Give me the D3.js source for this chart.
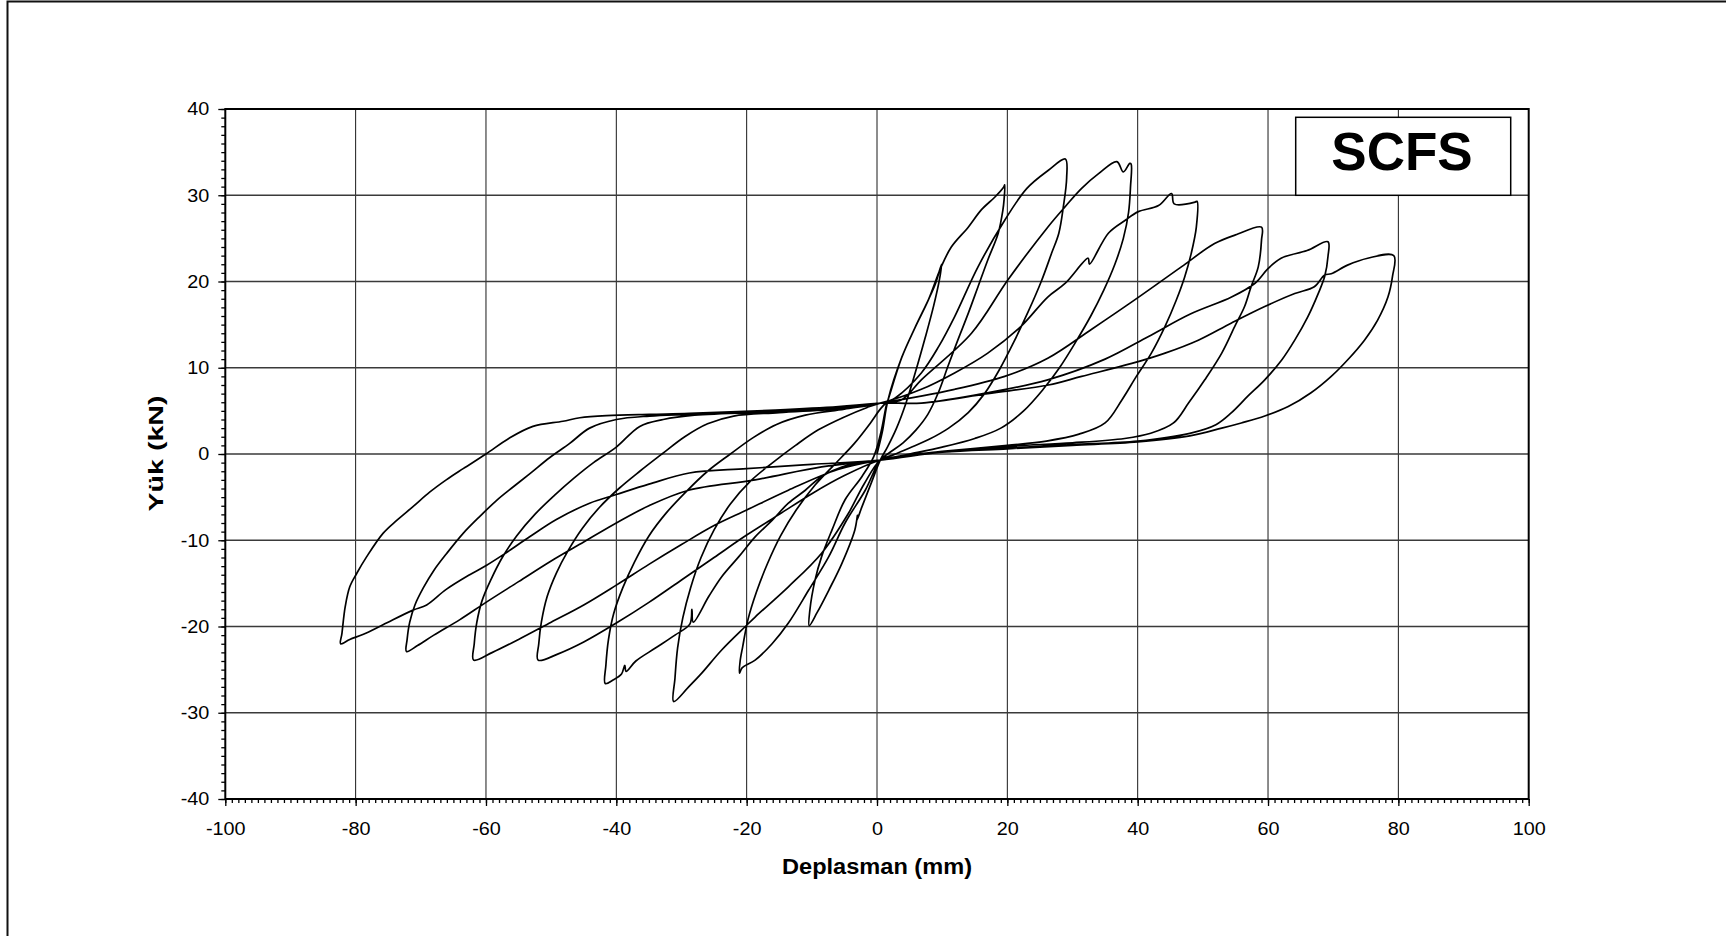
<!DOCTYPE html>
<html><head><meta charset="utf-8">
<script src="https://cdn.jsdelivr.net/npm/d3@7"></script>
<style>
body{margin:0;background:#fff;}
svg{display:block;}
text{font-family:Arial,"Liberation Sans",sans-serif;fill:#000;}
</style>
</head><body>
<svg id="c" width="1726" height="936"></svg>
<script>
// ---------- tick labels ----------
const xTicks = [-100,-80,-60,-40,-20,0,20,40,60,80,100];
const yTicks = [-40,-30,-20,-10,0,10,20,30,40];
const xTitle = "Deplasman (mm)";
const yTitle = "Yük (kN)";
const specimen = "SCFS";

// ---------- hysteresis data: [displacement mm, load kN] ----------
const cycle10 = [[0,0],[0.8,2.5],[1.7,6.3],[3.8,11.2],[5.8,14.6],[7.9,17.9],[9.0,19.8],[9.9,22.0],
  [9.6,20.3],[8.7,17.2],[7.4,13.5],[5.9,9.5],[4.4,5.8],[3.0,3.0],[1.6,0.8],[0.5,-0.7],
  [-0.8,-3.2],[-2.3,-6.1],[-3.1,-7.7],[-3.0,-7.1],[-3.4,-8.8],[-5.4,-12.7],[-7.4,-15.8],[-9.2,-18.4],[-10.4,-19.9],
  [-10.3,-18.1],[-9.5,-14.6],[-8.5,-11.9],[-6.9,-8.8],[-4.9,-5.3],[-2.3,-2.6],[-0.5,-0.3],[0.6,2.5],[1.5,5.9]];
const cycle20 = [[1.7,6.3],[3.8,11.2],[5.8,14.6],[7.9,17.9],[9.8,21.6],[11.4,24.0],[14.0,26.3],[16.0,28.3],[18.1,29.8],[19.4,30.9],[19.6,31.2],
  [19.5,29.5],[19.3,28.2],[18.6,25.6],[17.0,22.5],[15.5,19.4],[14.0,16.3],[12.4,13.2],[10.9,10.2],[9.4,7.1],[7.8,4.6],[6,2.8],[4,1.3],[2,0.2],[0.5,-0.7],
  [-1.8,-4.2],[-4.9,-8.0],[-7.4,-11.9],[-10.5,-15.8],[-13.6,-19.6],[-16.1,-22.0],[-18.7,-23.9],[-20.7,-24.8],[-21.1,-25.4],
  [-21.0,-24.0],[-20.6,-22.3],[-19.8,-19.2],[-18.5,-16.0],[-16.8,-12.7],[-14.8,-9.5],[-12.4,-6.5],[-9.5,-3.6],[-6.5,-1.2],[-3.5,1.2],[-1,3.6],[0.5,5.2],[1.5,6.0]];
const cycle30 = [[2.8,6.5],[6.8,9.4],[9.5,12.5],[11.9,15.9],[15.5,21.7],[19.6,27.1],[23.0,30.8],[26.3,32.9],[28.9,34.2],
  [29.1,32.0],[28.6,28.7],[27.9,25.6],[26.8,23.3],[25.2,20],[23.2,16.5],[21,13],[18.8,9.8],[16.5,7],[14,4.8],[11,3],[8,1.7],[5,0.7],[2.5,-0.1],[0.5,-0.7],
  [-2,-3.5],[-4.4,-6.9],[-8.5,-11.5],[-13.6,-15.4],[-18.7,-18.9],[-20.2,-20],[-23.8,-22.7],[-27,-25.5],[-28.9,-27.0],[-31.2,-28.7],
  [-31.0,-26],[-30.6,-22.5],[-29.8,-19],[-28.6,-15.5],[-27,-12],[-25,-8.8],[-22.5,-5.8],[-19.5,-3.2],[-16,-1],[-12.5,1],[-9,2.8],[-5,4.3],[-1.5,5.4],[0.5,5.9]];
const cycle40 = [[3.8,6.3],[6.8,8.6],[14.5,14.0],[20.1,20.2],[26.2,26.3],[28.9,28.7],[31.4,30.8],[34,32.5],[36.8,33.9],[37.8,32.7],[38.8,33.7],[39.0,33.6],
  [38.9,31],[38.6,28],[37.8,25],[36.5,22],[34.8,19],[32.8,16],[30.5,13],[28,10],[25.5,7.5],[22.5,5],[19,3],[15,1.8],[10,0.8],[5,0],[0.5,-0.7],
  [-1.3,-0.9],[-5.4,-1.5],[-8.5,-2.6],[-11,-4.2],[-13.6,-5.7],[-16.1,-7.7],[-18.7,-9.6],[-21.2,-11.9],[-23.8,-14.2],[-25.8,-16.5],[-28.2,-19.5],[-28.4,-18.0],[-28.7,-19.7],[-31,-21],[-34,-22.5],[-37,-24],[-38.5,-25.2],[-38.7,-24.5],[-39.2,-25.5],[-40.5,-26.2],[-41.7,-26.6],
  [-41.6,-24.5],[-41.2,-21.5],[-40.4,-18.5],[-39,-15.5],[-37.2,-12.5],[-35,-9.5],[-32.3,-6.8],[-29.2,-4.3],[-26,-2],[-22.5,0],[-19,1.9],[-15.5,3.4],[-11,4.5],[-5,5.2],[0.5,5.9]];
const cycle50 = [[6.8,7.5],[11.9,9.4],[17.0,11.7],[22.1,14.8],[26.2,18.2],[28.9,19.8],[32.4,22.7],[32.6,22.0],[35.5,25.6],[38.1,27.1],[40.1,28.1],[43.2,28.8],[45.2,30.2],[45.6,29.0],[48.8,29.2],[49.1,29.3],
  [49.0,26.3],[48.2,23.2],[47.2,20.5],[45.9,17.8],[44.2,14.8],[42.1,11.7],[39.8,9.0],[37.6,6.3],[35,3.6],[31,2.3],[26,1.5],[20,1.0],[10,0.3],[3,-0.3],[0.5,-0.7],
  [-5,-2.5],[-10,-4.6],[-15,-7],[-20,-9.4],[-25,-12],[-30,-14.6],[-35,-17.2],[-40,-19.6],[-45,-21.8],[-49,-23.2],[-52,-23.9],
  [-51.9,-22],[-51.5,-19.5],[-50.6,-16.5],[-49.2,-13.8],[-47.4,-11.2],[-45.2,-8.6],[-42.6,-6.2],[-39.6,-4],[-36.4,-2],[-33,0],[-29.5,2],[-26,3.5],[-22,4.4],[-15,4.8],[-5,5.3],[0.5,5.9]];
const cycle60 = [[11.9,7.5],[19.6,9.0],[26.2,11.1],[33,14.5],[39.6,17.9],[46.7,21.7],[51.8,24.4],[55,25.4],[59,26.3],
  [59,24.8],[58.5,21.7],[57.4,19.4],[56.4,17.1],[54.9,14.8],[52.9,11.7],[50.3,8.6],[47.8,5.9],[45.5,3.6],[42,2.4],[38,1.8],[30,1.3],[20,0.9],[10,0.3],[0.5,-0.7],
  [-6,-1.8],[-13.6,-4.2],[-20,-6.5],[-25,-8.3],[-30,-10.5],[-35,-12.8],[-40,-15.2],[-45,-17.5],[-50,-19.5],[-55,-21.5],[-59,-23],[-61.9,-23.9],
  [-61.8,-22],[-61.4,-19.5],[-60.6,-17],[-59.2,-14.5],[-57.5,-12],[-55.3,-9.5],[-52.5,-7],[-49.5,-4.8],[-46.5,-2.8],[-43.5,-1],[-40,0.8],[-36.4,3.2],[-32.8,4.0],[-28,4.5],[-15,4.9],[-5,5.3],[0.5,5.9]];
const cycle70 = [[6.8,5.9],[17.0,7.1],[26.2,8.6],[35,11],[41.6,13.6],[48,16.2],[54.4,18.2],[58,19.8],[60,21.5],[62,22.7],[66,23.6],[69.2,24.6],
  [69.2,22.9],[68.7,20.6],[67.7,18.6],[66.1,15.9],[64.1,13.2],[62.1,10.9],[59.5,8.6],[56.9,6.7],[54.4,4.8],[52,3.4],[48,2.4],[40,1.5],[30,1.1],[20,0.7],[10,0.2],[0.5,-0.7],
  [-8.5,-1.5],[-18.7,-3.0],[-28.9,-4.2],[-35,-6],[-40,-8.0],[-45,-10.2],[-50,-12.4],[-55,-14.8],[-60,-17.2],[-64,-19.2],[-68,-21],[-70.5,-22.2],[-72.2,-22.9],
  [-72.1,-21.5],[-71.7,-19.5],[-70.9,-17.5],[-69.6,-15.5],[-68.0,-13.5],[-66,-11.5],[-63.5,-9.2],[-60.9,-7.2],[-58.4,-5.4],[-55.8,-3.8],[-53.3,-2.3],[-50.2,-0.4],[-47.2,1.2],[-44.1,3.0],[-40,4.0],[-34.9,4.4],[-28.8,4.6],[-15,5.0],[-5,5.4],[0.5,5.9]];
const cycle80 = [[6.8,5.9],[17,7],[26.3,8.0],[31.4,9.0],[39.1,10.5],[44.2,11.7],[49.3,13.2],[54.4,15.2],[59.5,17.1],[64.1,18.6],[67.1,19.4],[68.7,20.75],[69.7,20.9],[72.2,21.9],[75.3,22.7],[79.3,23.0],
  [79.1,20.6],[78.4,18.2],[76.8,15.5],[74.8,13.2],[72.2,10.9],[69.7,9.0],[66.6,7.1],[63.1,5.5],[59.5,4.4],[55.9,3.6],[52.9,3.0],[48,2.1],[40,1.4],[30,1.0],[20,0.6],[10,0.2],[0.5,-0.7],
  [-10,-1.2],[-20,-1.7],[-28.8,-2.2],[-35,-3.5],[-40,-4.7],[-44.1,-5.7],[-49.2,-7.6],[-53.3,-9.6],[-57.4,-11.7],[-59.9,-12.9],[-62.5,-14.0],[-66.1,-15.7],[-69.1,-17.5],[-71.2,-18.1],[-75.8,-19.8],[-78.8,-20.9],[-80.9,-21.5],[-82.3,-22.0],
  [-82.1,-20.8],[-81.6,-17.7],[-80.9,-15.4],[-79.8,-13.8],[-78.3,-11.9],[-75.8,-9.2],[-73.7,-7.7],[-71.2,-6.1],[-68.6,-4.4],[-66.1,-3.0],[-63.5,-1.7],[-60.0,0],[-56.5,1.8],[-52.8,3.2],[-48.2,3.8],[-45.6,4.2],[-41.5,4.45],[-34.9,4.6],[-28.8,4.7],[-15.6,5.1],[-5.9,5.5],[0.5,5.9]];
const cycles = [cycle10, cycle20, cycle30, cycle40, cycle50, cycle60, cycle70, cycle80];

// ---------- drawing ----------
const W = 1726, H = 936;
const svg = d3.select("#c");
const x = d3.scaleLinear().domain([-100, 100]).range([225.3, 1528.7]);
const y = d3.scaleLinear().domain([-40, 40]).range([799, 109]);

// outer frame (left and top edges visible)
svg.append("path").attr("d", `M7.5,${H+2}V1.5H${W+2}`).attr("fill","none").attr("stroke","#111").attr("stroke-width",2);

// grid
const grid = svg.append("g");
grid.selectAll(".vg").data(xTicks.slice(1, -1)).join("line")
  .attr("x1", d => x(d)).attr("x2", d => x(d)).attr("y1", y(40)).attr("y2", y(-40))
  .attr("stroke", "#1a1a1a").attr("stroke-width", 1);
grid.selectAll(".hg").data(yTicks.slice(1, -1)).join("line")
  .attr("y1", d => y(d)).attr("y2", d => y(d)).attr("x1", x(-100)).attr("x2", x(100))
  .attr("stroke", "#3a3a3a").attr("stroke-width", 1.3);

// curve
const line = d3.line().x(d => x(d[0])).y(d => y(d[1])).curve(d3.curveCatmullRom.alpha(0.5));
svg.append("path").datum(cycles.flat()).attr("d", line)
  .attr("fill", "none").attr("stroke", "#000").attr("stroke-width", 1.7).attr("stroke-linejoin","round");

// plot frame
svg.append("rect").attr("x", x(-100)).attr("y", y(40)).attr("width", x(100) - x(-100)).attr("height", y(-40) - y(40))
  .attr("fill", "none").attr("stroke", "#000").attr("stroke-width", 2);

// axes
const fs = 18;
const minorY = d3.axisLeft(y).tickValues(d3.range(-40, 41, 1)).tickSize(4).tickFormat("");
const minorX = d3.axisBottom(x).tickValues(d3.range(-100, 101, 1)).tickSize(4).tickFormat("");
const majorY = d3.axisLeft(y).tickValues(yTicks).tickSize(7).tickPadding(9).tickFormat(d3.format("d"));
const majorX = d3.axisBottom(x).tickValues(xTicks).tickSize(7).tickPadding(16).tickFormat(d3.format("d"));
function styleAxis(g){
  g.select(".domain").remove();
  g.selectAll("line").attr("stroke","#000").attr("stroke-width",1.3);
  g.selectAll("text").attr("font-size", fs).attr("font-family","Arial, 'Liberation Sans', sans-serif").attr("fill","#000");
}
svg.append("g").attr("transform", `translate(${x(-100)},0)`).call(minorY).call(styleAxis);
svg.append("g").attr("transform", `translate(0,${y(-40)})`).call(minorX).call(styleAxis);
svg.append("g").attr("transform", `translate(${x(-100)},0)`).call(majorY).call(styleAxis);
svg.append("g").attr("transform", `translate(0,${y(-40)})`).call(majorX).call(styleAxis);
svg.selectAll("g.tick text").each(function(){
  this.textContent = this.textContent.replace("\u2212","-");
  const w = this.getComputedTextLength();
  this.setAttribute("textLength", (w * 1.1).toFixed(2));
  this.setAttribute("lengthAdjust", "spacingAndGlyphs");
});

// titles
svg.append("text").attr("x", 877).attr("y", 874).attr("text-anchor","middle")
  .attr("font-size", 22).attr("font-weight","bold")
  .attr("textLength", 190).attr("lengthAdjust","spacingAndGlyphs").text(xTitle);
svg.append("text").attr("transform","translate(163,453.5) rotate(-90)").attr("text-anchor","middle")
  .attr("font-size", 21).attr("font-weight","bold")
  .attr("textLength", 116).attr("lengthAdjust","spacingAndGlyphs").text(yTitle);

// specimen label box
svg.append("rect").attr("x",1295.7).attr("y",117.3).attr("width",215).attr("height",78)
  .attr("fill","#fff").attr("stroke","#000").attr("stroke-width",1.5);
svg.append("text").attr("x",1402).attr("y",169.5).attr("text-anchor","middle")
  .attr("font-size",53).attr("font-weight","bold").text(specimen);
</script>
</body></html>
